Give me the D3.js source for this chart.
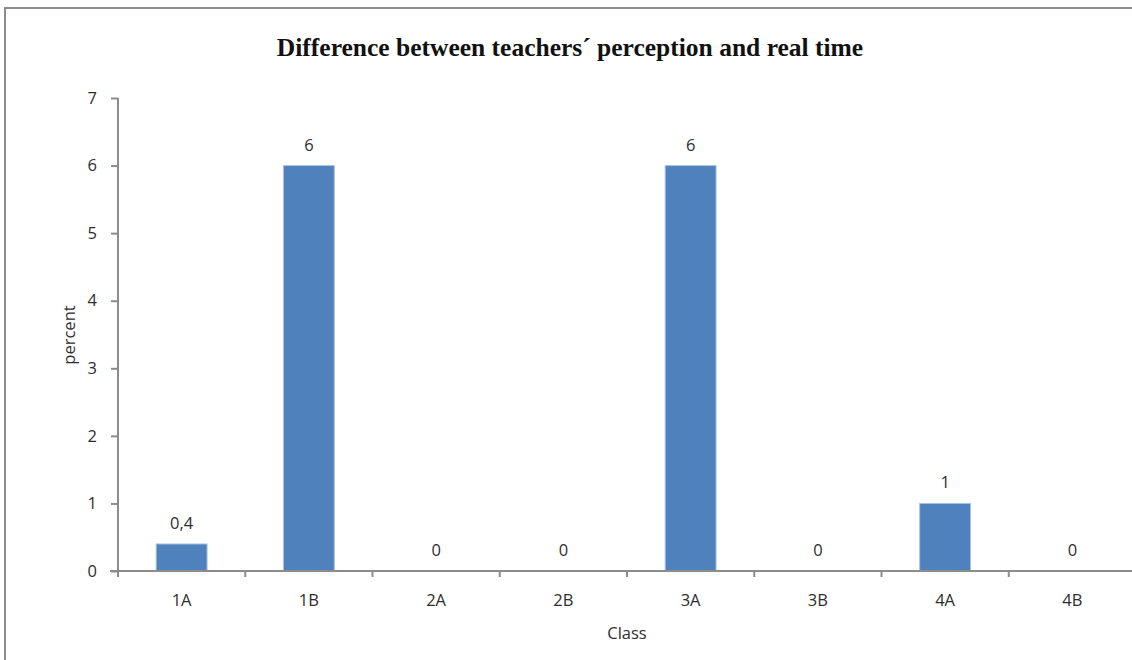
<!DOCTYPE html>
<html>
<head>
<meta charset="utf-8">
<script src="https://cdn.jsdelivr.net/npm/d3@7"></script>
<style>
  html, body { margin: 0; padding: 0; background: #fff; }
  svg { display: block; }
</style>
</head>
<body>
<svg id="chart" width="1132" height="660"></svg>
<script>
// Chart data
const categories = ["1A", "1B", "2A", "2B", "3A", "3B", "4A", "4B"];
const values = [0.4, 6, 0, 0, 6, 0, 1, 0];
const valueLabels = ["0,4", "6", "0", "0", "6", "0", "1", "0"];
const yTicks = [0, 1, 2, 3, 4, 5, 6, 7];

const svg = d3.select("#chart");
const W = 1132, H = 660;
const margin = { left: 118, right: -4, top: 98, bottom: 89 };
const plotW = W - margin.left - margin.right;
const plotH = H - margin.top - margin.bottom;
const labelFont = "'Open Sans', sans-serif";
const labelSize = 16.5;
const labelColor = "#2e2e2e";

// Outer frame of the chart area
svg.append("rect")
  .attr("x", 5).attr("y", 8)
  .attr("width", W + 10).attr("height", H + 10)
  .attr("fill", "#fff")
  .attr("stroke", "#8c8c8c")
  .attr("stroke-width", 2);

const g = svg.append("g").attr("transform", `translate(${margin.left},${margin.top})`);

const x = d3.scaleBand().domain(categories).range([0, plotW]).paddingInner(0.6).paddingOuter(0.3);
const xTicksScale = d3.scaleBand().domain(categories).range([0, plotW]);
const y = d3.scaleLinear().domain([0, 7]).range([plotH, 0]);

// Bars
g.selectAll("rect.bar").data(categories).enter().append("rect")
  .attr("class", "bar")
  .attr("x", d => x(d))
  .attr("width", x.bandwidth())
  .attr("y", (d, i) => y(values[i]))
  .attr("height", (d, i) => y(0) - y(values[i]))
  .attr("fill", "#4f81bd")
  .attr("stroke", "#a9c3e3")
  .attr("stroke-width", 1);

// Value labels
g.selectAll("text.val").data(categories).enter().append("text")
  .attr("class", "val")
  .attr("x", d => x(d) + x.bandwidth() / 2)
  .attr("y", (d, i) => y(values[i]) - 15)
  .attr("text-anchor", "middle")
  .attr("font-family", labelFont)
  .attr("font-size", labelSize)
  .attr("fill", labelColor)
  .text((d, i) => valueLabels[i]);

// Y axis
const yAxis = d3.axisLeft(y).tickValues(yTicks).tickSize(7).tickPadding(14).tickFormat(d3.format("d"));
const yg = g.append("g").call(yAxis);
yg.select(".domain").attr("stroke", "#8c8c8c").attr("stroke-width", 2).attr("d", `M0,${plotH}V0`);
yg.selectAll(".tick line").attr("stroke", "#8c8c8c").attr("stroke-width", 2);
yg.selectAll(".tick text")
  .attr("font-family", labelFont)
  .attr("font-size", labelSize)
  .attr("fill", labelColor);

// X axis: ticks at category boundaries, labels at centres
const xg = g.append("g").attr("transform", `translate(0,${plotH})`);
xg.append("line")
  .attr("x1", -8).attr("x2", plotW)
  .attr("stroke", "#8c8c8c").attr("stroke-width", 2);
xg.selectAll("line.tk").data(categories).enter().append("line")
  .attr("class", "tk")
  .attr("x1", d => xTicksScale(d)).attr("x2", d => xTicksScale(d))
  .attr("y1", 0).attr("y2", 6)
  .attr("stroke", "#8c8c8c").attr("stroke-width", 2);
xg.selectAll("text").data(categories).enter().append("text")
  .attr("x", d => xTicksScale(d) + xTicksScale.bandwidth() / 2)
  .attr("y", 35)
  .attr("text-anchor", "middle")
  .attr("font-family", labelFont)
  .attr("font-size", labelSize)
  .attr("fill", labelColor)
  .text(d => d);

// Axis titles
svg.append("text")
  .attr("x", margin.left + plotW / 2)
  .attr("y", 639)
  .attr("text-anchor", "middle")
  .attr("font-family", labelFont)
  .attr("font-size", labelSize)
  .attr("fill", labelColor)
  .text("Class");

svg.append("text")
  .attr("transform", "translate(75,335) rotate(-90)")
  .attr("text-anchor", "middle")
  .attr("font-family", labelFont)
  .attr("font-size", labelSize)
  .attr("fill", labelColor)
  .text("percent");

// Chart title
svg.append("text")
  .attr("x", 570)
  .attr("y", 56)
  .attr("text-anchor", "middle")
  .attr("font-family", "'Liberation Serif', 'Times New Roman', serif")
  .attr("font-weight", "bold")
  .attr("font-size", 25.5)
  .attr("fill", "#111")
  .text("Difference between teachers´ perception and real time");
</script>
</body>
</html>
